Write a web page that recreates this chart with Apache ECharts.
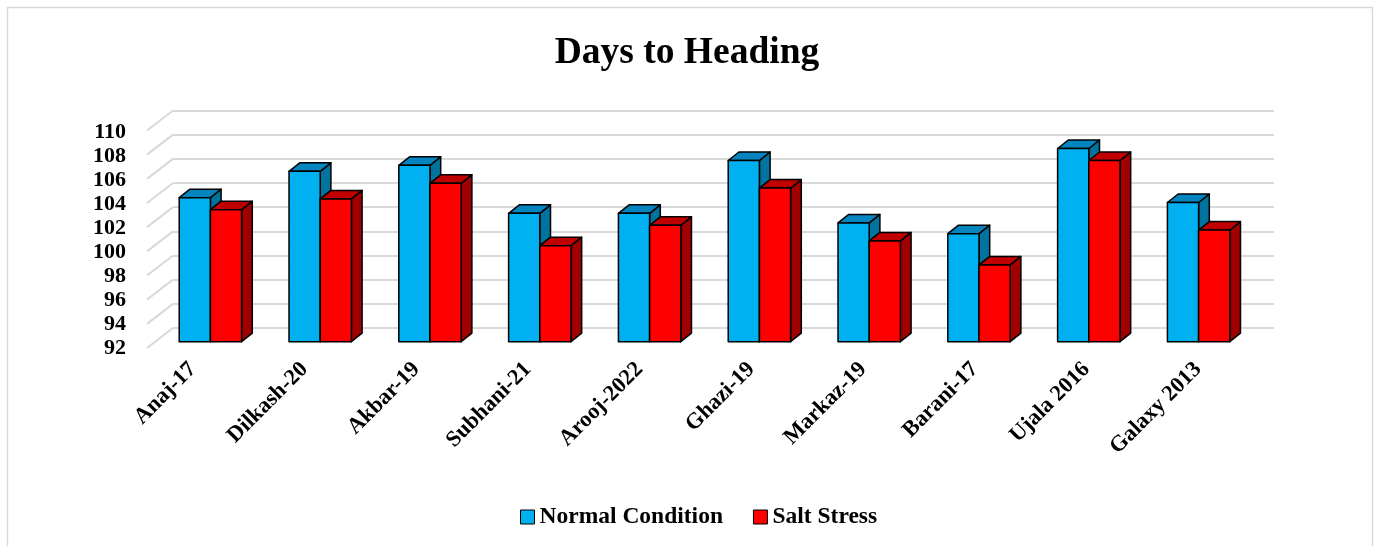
<!DOCTYPE html>
<html>
<head>
<meta charset="utf-8">
<title>Days to Heading</title>
<script src="https://cdn.jsdelivr.net/npm/echarts@6/dist/echarts.min.js"></script>
<style>
  html, body { margin: 0; padding: 0; background: #ffffff; }
  #chart { width: 1374px; height: 546px; }
</style>
</head>
<body>
<div id="chart"></div>
<script>
// Wheat varieties and their days to heading under two growing conditions
const categories = ['Anaj-17', 'Dilkash-20', 'Akbar-19', 'Subhani-21', 'Arooj-2022',
                    'Ghazi-19', 'Markaz-19', 'Barani-17', 'Ujala 2016', 'Galaxy 2013'];
const normalCondition = [104.0, 106.2, 106.7, 102.7, 102.7, 107.1, 101.9, 101.0, 108.1, 103.6];
const saltStress      = [103.0, 103.9, 105.2, 100.0, 101.7, 104.8, 100.4, 98.4, 107.1, 101.3];
const yMin = 92, yMax = 110, yStep = 2;
const yTicks = [92, 94, 96, 98, 100, 102, 104, 106, 108, 110];

const FONT = '"Times New Roman", "Liberation Serif", serif';
// depth offsets used to give the columns and walls a 3D look
const BAR_DX = 10.7, BAR_DY = 8.5;
const WALL_DX = 26, WALL_DY = 20;

const palettes = {
  normal: { front: '#00B0F0', top: '#0585C0', side: '#00739E' },
  salt:   { front: '#FF0000', top: '#C00000', side: '#A00000' }
};

function columnRenderer(slot, pal) {
  return function (params, api) {
    const idx = api.value(0);
    const val = api.value(1);
    const band = api.size([1, 0])[0];
    const w = band * 0.284;
    const topPt = api.coord([idx, val]);
    const basePt = api.coord([idx, yMin]);
    const x0 = topPt[0] + (slot === 0 ? -w : 0);
    const x1 = x0 + w;
    const yt = topPt[1], yb = basePt[1];
    const edge = { stroke: '#000000', lineWidth: 1.5, lineJoin: 'round' };
    return {
      type: 'group',
      children: [
        { type: 'polygon',
          shape: { points: [[x1, yt], [x1 + BAR_DX, yt - BAR_DY], [x1 + BAR_DX, yb - BAR_DY], [x1, yb]] },
          style: Object.assign({ fill: pal.side }, edge) },
        { type: 'polygon',
          shape: { points: [[x0, yt], [x0 + BAR_DX, yt - BAR_DY], [x1 + BAR_DX, yt - BAR_DY], [x1, yt]] },
          style: Object.assign({ fill: pal.top }, edge) },
        { type: 'rect',
          shape: { x: x0, y: yt, width: w, height: yb - yt },
          style: Object.assign({ fill: pal.front }, edge) }
      ]
    };
  };
}

// side-wall lines joining the front value labels to the back wall gridlines
function sideWallRenderer(params, api) {
  const p = api.coord([0, api.value(0)]);
  const x = params.coordSys.x;
  return {
    type: 'line',
    shape: { x1: x, y1: p[1], x2: x - WALL_DX, y2: p[1] + WALL_DY },
    style: { stroke: '#d9d9d9', lineWidth: 2 }
  };
}

const chart = echarts.init(document.getElementById('chart'), null, { renderer: 'canvas' });

const hiddenCat = (gi) => ({ type: 'category', gridIndex: gi, data: categories, show: false });
const hiddenVal = (gi) => ({ type: 'value', gridIndex: gi, min: yMin, max: yMax, interval: yStep, show: false });

chart.setOption({
  backgroundColor: '#ffffff',
  animation: false,
  title: {
    text: 'Days to Heading',
    left: 'center',
    top: 29,
    textStyle: { fontFamily: FONT, fontWeight: 'bold', fontSize: 37.5, color: '#000000' }
  },
  legend: {
    top: 500,
    left: 515,
    itemWidth: 14,
    itemHeight: 14,
    itemGap: 30,
    icon: 'rect',
    textStyle: { fontFamily: FONT, fontWeight: 'bold', fontSize: 23.5, color: '#000000' },
    data: [
      { name: 'Normal Condition', itemStyle: { color: palettes.normal.front, borderColor: '#000', borderWidth: 1 } },
      { name: 'Salt Stress', itemStyle: { color: palettes.salt.front, borderColor: '#000', borderWidth: 1 } }
    ]
  },
  graphic: [{
    type: 'rect',
    shape: { x: 7.5, y: 7.5, width: 1365, height: 560 },
    style: { fill: 'none', stroke: '#d9d9d9', lineWidth: 1.5 },
    silent: true
  }],
  grid: [
    // front edge: value and category labels
    { left: 137, top: 132, width: 1117, height: 216 },
    // back wall: gridlines
    { left: 173, top: 110.5, width: 1101, height: 217.5 },
    // front faces of the columns
    { left: 155.5, top: 125.7, width: 1098, height: 216 }
  ],
  xAxis: [
    { type: 'category', gridIndex: 0, data: categories,
      axisLine: { show: false }, axisTick: { show: false },
      axisLabel: { rotate: 45, margin: 18, interval: 0,
                   fontFamily: FONT, fontWeight: 'bold', fontSize: 22.5, color: '#000000' } },
    hiddenCat(1),
    hiddenCat(2)
  ],
  yAxis: [
    { type: 'value', gridIndex: 0, min: yMin, max: yMax, interval: yStep,
      axisLine: { show: false }, axisTick: { show: false }, splitLine: { show: false },
      axisLabel: { margin: 11, fontFamily: FONT, fontWeight: 'bold', fontSize: 22, color: '#000000' } },
    { type: 'value', gridIndex: 1, min: yMin, max: yMax, interval: yStep,
      axisLine: { show: false }, axisTick: { show: false }, axisLabel: { show: false },
      splitLine: { show: true, lineStyle: { color: '#d9d9d9', width: 2 } } },
    hiddenVal(2)
  ],
  series: [
    { type: 'custom', name: 'wall', xAxisIndex: 1, yAxisIndex: 1, z: 1, silent: true,
      renderItem: sideWallRenderer, data: yTicks.map(v => [v]), encode: { y: 0 } },
    { type: 'custom', name: 'Normal Condition', xAxisIndex: 2, yAxisIndex: 2, z: 3,
      itemStyle: { color: palettes.normal.front },
      renderItem: columnRenderer(0, palettes.normal),
      data: normalCondition.map((v, i) => [i, v]), encode: { x: 0, y: 1 } },
    { type: 'custom', name: 'Salt Stress', xAxisIndex: 2, yAxisIndex: 2, z: 4,
      itemStyle: { color: palettes.salt.front },
      renderItem: columnRenderer(1, palettes.salt),
      data: saltStress.map((v, i) => [i, v]), encode: { x: 0, y: 1 } }
  ]
});
</script>
</body>
</html>
